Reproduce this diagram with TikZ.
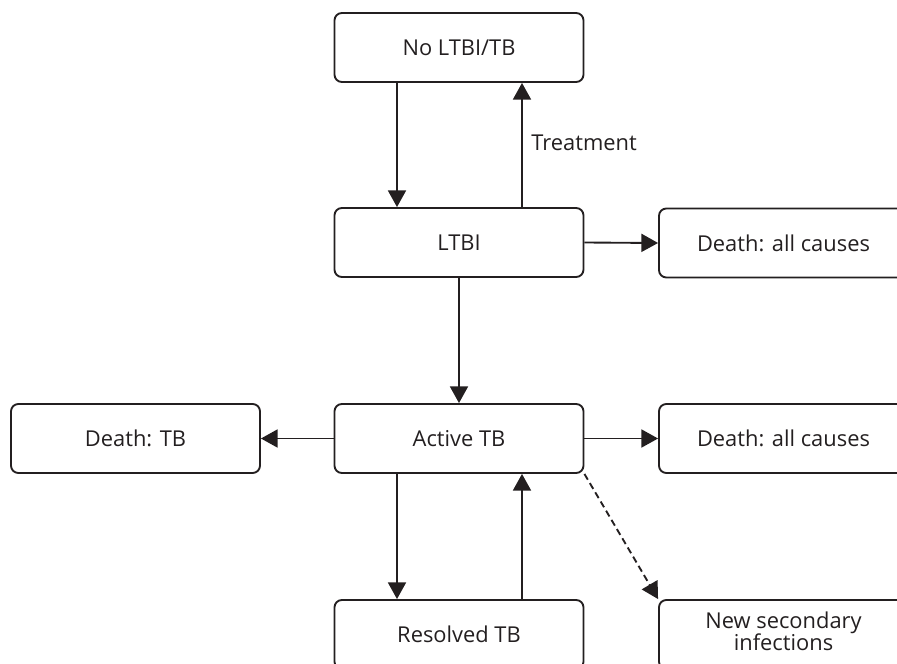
\documentclass[tikz,border=0pt]{standalone}
\usepackage{fontspec}
\setmainfont{Open Sans}
\usetikzlibrary{arrows.meta}
\definecolor{ink}{HTML}{231F20}
\begin{document}
\begin{tikzpicture}[x=0.75pt,y=-0.75pt,
  font=\fontsize{16.4}{18}\selectfont,
  statebox/.style={draw=ink,line width=1.4pt,rounded corners=5.5pt,rectangle,
    minimum width=186.75pt,minimum height=51.75pt,inner sep=0pt,align=center,text=ink},
  arr/.style={draw=ink,line width=1.4pt,-{Triangle[length=12.5pt,width=13.5pt]}},
  darr/.style={arr,dash pattern=on 5pt off 3pt}]
\useasboundingbox (0,0) rectangle (897,664);
\clip (0,0) rectangle (897,664);
\node[statebox] (nolt) at (459,47.5) {No LTBI/TB};
\node[statebox] (ltbi) at (459,242.5) {LTBI};
\node[statebox] (dall1) at (783.5,243) {Death: all causes};
\node[statebox] (active) at (459,438.5) {Active TB};
\node[statebox] (dtb) at (135.5,438.5) {Death: TB};
\node[statebox] (dall2) at (783.5,438.5) {Death: all causes};
\node[statebox] (resolved) at (459,634.5) {Resolved TB};
\node[statebox] (newsec) at (783.5,634.5) {\raisebox{4pt}{\begin{tabular}{@{}c@{}}New secondary\\[-1.5pt]infections\end{tabular}}};
\draw[arr] ([xshift=-46.5pt]nolt.south) -- ([xshift=-46.5pt]ltbi.north);
\draw[arr] ([xshift=47.25pt]ltbi.north) -- node[right=3pt,pos=0.52,text=ink] (treat) {Treatment} ([xshift=47.25pt]nolt.south);
\draw[arr] (ltbi.east) -- (dall1.west);
\draw[arr] (ltbi.south) -- (active.north);
\draw[arr] (active.west) -- (dtb.east);
\draw[arr] (active.east) -- (dall2.west);
\draw[arr] ([xshift=-46.5pt]active.south) -- ([xshift=-46.5pt]resolved.north);
\draw[arr] ([xshift=47.25pt]resolved.north) -- ([xshift=47.25pt]active.south);
\draw[darr] (active.south east) -- (newsec.north west);
\end{tikzpicture}
\end{document}
